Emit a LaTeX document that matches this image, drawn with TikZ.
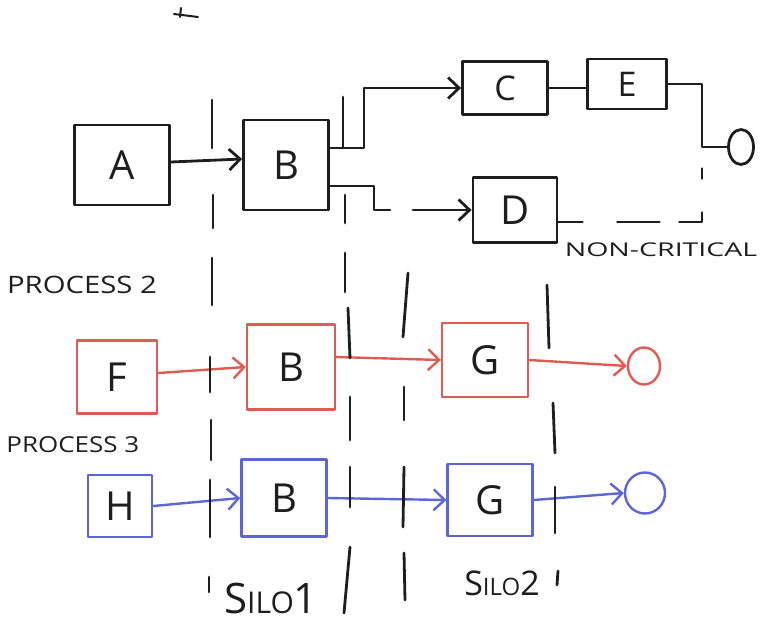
\documentclass[tikz,border=0pt]{standalone}
\usepackage{fontspec}
\setmainfont{Open Sans}
\usetikzlibrary{arrows.meta,shapes.geometric}
\definecolor{ink}{RGB}{30,30,30}
\definecolor{pred}{RGB}{222,92,82}
\definecolor{pblue}{RGB}{92,102,215}
\begin{document}
\begin{tikzpicture}[x=1pt,y=-1pt,
  line width=2.8pt, line cap=round, line join=round,
  box/.style={draw, rectangle, inner sep=0pt, text=ink, font=\fontsize{40}{40}\selectfont},
  smallbox/.style={box, font=\fontsize{34}{34}\selectfont},
  colbox/.style={box, line width=2.4pt},
  arr/.style={-{Straight Barb[length=11pt,width=21pt]}},
  colline/.style={line width=2.4pt},
  silo/.style={draw=ink, line width=2.8pt},
  endpt/.style={draw, ellipse, inner sep=0pt},
  lbl/.style={text=ink, inner sep=0pt, font=\fontsize{24}{24}\selectfont},
  silolbl/.style={text=ink, inner sep=0pt}]
\useasboundingbox (0,0) rectangle (770,623);

% small mark at the top
\draw[ink, line width=2pt] (174,14) -- (198,17);
\draw[ink, line width=2pt] (181,8) -- (180,17);

% ---------- process 1 (black) ----------
\node[box, draw=ink, minimum width=95pt, minimum height=80pt] (A) at (122,165) {A};
\node[box, draw=ink, minimum width=85pt, minimum height=90pt] (B1) at (286,165) {B};
\node[smallbox, draw=ink, minimum width=85pt, minimum height=53pt] (C) at (505,88) {C};
\node[smallbox, draw=ink, minimum width=79pt, minimum height=50pt] (E) at (627,84) {E};
\node[box, draw=ink, minimum width=84pt, minimum height=65pt] (D) at (515,210) {D};
\node[endpt, draw=ink, minimum width=25pt, minimum height=35pt] (O1) at (741,147) {};
\node[text=ink, inner sep=0pt, font=\fontsize{19}{19}\selectfont] (nc) at (661,250) {\scalebox{1.5}[1]{NON-CRITICAL}};

\coordinate (bd1) at (390,210);
\coordinate (bd2) at (413,210);
\coordinate (jn) at (702,147);

\draw[ink, arr] ([yshift=3pt]A.east) -- ([yshift=6pt]B1.west);
\draw[ink, arr] ([yshift=17pt]B1.east) -- ++(34,0) |- (C.west);
\draw[ink] ([yshift=-21pt]B1.east) -- ++(44,0) -- ++(0,24) -- (bd1);
\draw[ink, arr] (bd2) -- (D.west);
\draw[ink] (C.east) -- (C.east -| E.west);
\draw[ink] (E.east) -| (jn) -- (O1.west);
\draw[ink, dash pattern=on 24pt off 35pt on 42pt off 20pt on 32pt off 34pt on 10pt off 40pt]
  ([yshift=-12pt]D.east) -| (jn);

% ---------- process 2 (red) ----------
\node[lbl] (p2) at (82,285) {\scalebox{1.22}[1]{PROCESS 2}};
\node[colbox, draw=pred, minimum width=80pt, minimum height=73pt] (F) at (117,377) {F};
\node[colbox, draw=pred, minimum width=88pt, minimum height=85pt] (B2) at (291,367) {B};
\node[colbox, draw=pred, minimum width=86pt, minimum height=74pt] (G2) at (485,360) {G};
\node[endpt, draw=pred, colline, minimum width=32pt, minimum height=37pt] (O2) at (644,366) {};
\draw[pred, colline, arr] ([yshift=4pt]F.east) -- (B2.west);
\draw[pred, colline, arr] ([yshift=10pt]B2.east) -- (G2.west);
\draw[pred, colline, arr] (G2.east) -- (O2.west);

% ---------- process 3 (blue) ----------
\node[lbl, anchor=west, font=\fontsize{22}{22}\selectfont] (p3) at (5,445) {\scalebox{1.18}[1]{PROCESS 3}};
\node[colbox, draw=pblue, minimum width=64pt, minimum height=62pt] (H) at (120,506) {H};
\node[colbox, draw=pblue, minimum width=85pt, minimum height=77pt] (B3) at (284,498) {B};
\node[colbox, draw=pblue, minimum width=85pt, minimum height=72pt] (G3) at (490,500) {G};
\node[endpt, draw=pblue, colline, minimum width=40pt, minimum height=41pt] (O3) at (645,493) {};
\draw[pblue, colline, arr] (H.east) -- (B3.west);
\draw[pblue, colline, arr] (B3.east) -- (G3.west);
\draw[pblue, colline, arr] (G3.east) -- (O3.west);

% ---------- silo boundaries ----------
\draw[silo] (212,100) -- (212,148);
\draw[silo] (213,195) -- (213,228);
\draw[silo] (212,258) -- (212,305);
\draw[silo] (210,357) -- (210,392);
\draw[silo] (211,420) -- (211,460);
\draw[silo] (210,480) -- (210,537);
\draw[silo] (209,577) -- (209,592);

\draw[silo] (343,97) -- (343,147);
\draw[silo] (345,195) -- (345,223);
\draw[silo] (345,253) -- (345,292);
\draw[silo] (348,308) -- (350,358);
\draw[silo] (350,397) -- (350,440);
\draw[silo] (350,467) -- (350,507);
\draw[silo] (350,547) -- (344,613);

\draw[silo] (408,273) -- (403,337);
\draw[silo] (404,387) -- (404,420);
\draw[silo] (404,467) -- (403,527);
\draw[silo] (404,553) -- (405,600);

\draw[silo] (547,285) -- (549,348);
\draw[silo] (553,403) -- (555,453);
\draw[silo] (555,487) -- (555,533);
\draw[silo] (558,571) -- (557,585);

\node[silolbl, font=\fontsize{42}{42}\selectfont] (s1) at (271,598)
  {S{\fontsize{30}{30}\selectfont ILO}1};
\node[silolbl, font=\fontsize{34}{34}\selectfont] (s2) at (502,583)
  {S{\fontsize{24}{24}\selectfont ILO}2};
\end{tikzpicture}
\end{document}
